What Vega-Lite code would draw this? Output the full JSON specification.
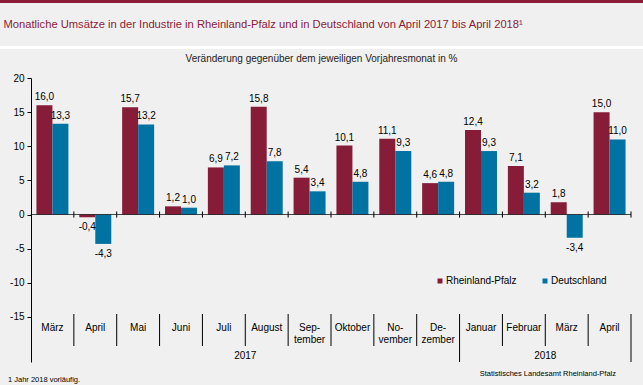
{
  "$schema": "https://vega.github.io/schema/vega-lite/v6.json",
  "width": 643,
  "height": 385,
  "autosize": {"type": "none"},
  "padding": 0,
  "background": "#eff0ef",
  "datasets": {
    "bars": [
      {"key": "2017-03", "series": "Rheinland-Pfalz", "value": 16.0},
      {"key": "2017-03", "series": "Deutschland", "value": 13.3},
      {"key": "2017-04", "series": "Rheinland-Pfalz", "value": -0.4},
      {"key": "2017-04", "series": "Deutschland", "value": -4.3},
      {"key": "2017-05", "series": "Rheinland-Pfalz", "value": 15.7},
      {"key": "2017-05", "series": "Deutschland", "value": 13.2},
      {"key": "2017-06", "series": "Rheinland-Pfalz", "value": 1.2},
      {"key": "2017-06", "series": "Deutschland", "value": 1.0},
      {"key": "2017-07", "series": "Rheinland-Pfalz", "value": 6.9},
      {"key": "2017-07", "series": "Deutschland", "value": 7.2},
      {"key": "2017-08", "series": "Rheinland-Pfalz", "value": 15.8},
      {"key": "2017-08", "series": "Deutschland", "value": 7.8},
      {"key": "2017-09", "series": "Rheinland-Pfalz", "value": 5.4},
      {"key": "2017-09", "series": "Deutschland", "value": 3.4},
      {"key": "2017-10", "series": "Rheinland-Pfalz", "value": 10.1},
      {"key": "2017-10", "series": "Deutschland", "value": 4.8},
      {"key": "2017-11", "series": "Rheinland-Pfalz", "value": 11.1},
      {"key": "2017-11", "series": "Deutschland", "value": 9.3},
      {"key": "2017-12", "series": "Rheinland-Pfalz", "value": 4.6},
      {"key": "2017-12", "series": "Deutschland", "value": 4.8},
      {"key": "2018-01", "series": "Rheinland-Pfalz", "value": 12.4},
      {"key": "2018-01", "series": "Deutschland", "value": 9.3},
      {"key": "2018-02", "series": "Rheinland-Pfalz", "value": 7.1},
      {"key": "2018-02", "series": "Deutschland", "value": 3.2},
      {"key": "2018-03", "series": "Rheinland-Pfalz", "value": 1.8},
      {"key": "2018-03", "series": "Deutschland", "value": -3.4},
      {"key": "2018-04", "series": "Rheinland-Pfalz", "value": 15.0},
      {"key": "2018-04", "series": "Deutschland", "value": 11.0}
    ],
    "months": [
      {"key": "2017-03", "label": "März"},
      {"key": "2017-04", "label": "April"},
      {"key": "2017-05", "label": "Mai"},
      {"key": "2017-06", "label": "Juni"},
      {"key": "2017-07", "label": "Juli"},
      {"key": "2017-08", "label": "August"},
      {"key": "2017-09", "label": "Sep-\ntember"},
      {"key": "2017-10", "label": "Oktober"},
      {"key": "2017-11", "label": "No-\nvember"},
      {"key": "2017-12", "label": "De-\nzember"},
      {"key": "2018-01", "label": "Januar"},
      {"key": "2018-02", "label": "Februar"},
      {"key": "2018-03", "label": "März"},
      {"key": "2018-04", "label": "April"}
    ],
    "years": [
      {"key": "2017-08", "year": "2017"},
      {"key": "2018-03", "year": "2018"}
    ]
  },
  "layer": [
    {
      "data": {"name": "months"},
      "mark": {"type": "rule", "color": "#8a1c38", "strokeWidth": 3},
      "encoding": {"y": {"datum": 31.28, "type": "quantitative"}}
    },
    {
      "data": {"name": "months"},
      "mark": {"type": "rule", "color": "#ffffff", "strokeWidth": 3},
      "encoding": {"y": {"datum": 24.47, "type": "quantitative"}}
    },
    {
      "data": {"name": "bars"},
      "mark": {"type": "bar"},
      "encoding": {
        "x": {
          "field": "key",
          "type": "nominal",
          "scale": {
            "domain": ["2017-03","2017-04","2017-05","2017-06","2017-07","2017-08","2017-09","2017-10","2017-11","2017-12","2018-01","2018-02","2018-03","2018-04"],
            "range": [31, 631],
            "paddingInner": 0,
            "paddingOuter": 0
          },
          "axis": {
            "orient": "bottom",
            "labels": false,
            "ticks": false,
            "domain": false,
            "grid": false,
            "title": "Monatliche Umsätze in der Industrie in Rheinland-Pfalz und in Deutschland von April 2017 bis April 2018¹",
            "titleX": 3,
            "titleY": -361,
            "titleAlign": "left",
            "titleAnchor": "start",
            "titleBaseline": "middle",
            "titleFontSize": 11.2,
            "titleFontWeight": "normal",
            "titleColor": "#8a1c38",
            "titleFont": "Liberation Sans"
          }
        },
        "xOffset": {
          "field": "series",
          "type": "nominal",
          "scale": {"domain": ["Rheinland-Pfalz", "Deutschland"], "paddingInner": 0, "paddingOuter": 0.34}
        },
        "y": {
          "field": "value",
          "type": "quantitative",
          "scale": {"domain": [-21.6, 20], "range": [362, 78], "nice": false, "zero": false},
          "axis": {
            "orient": "left",
            "offset": -31,
            "values": [-15, -10, -5, 0, 5, 10, 15, 20],
            "grid": false,
            "domainColor": "#000000",
            "tickColor": "#000000",
            "tickSize": 4,
            "labelFontSize": 10,
            "labelColor": "#000000",
            "labelPadding": 3,
            "labelFont": "Liberation Sans",
            "title": "Veränderung gegenüber dem jeweiligen Vorjahresmonat in %",
            "titleAngle": 0,
            "titleX": 290,
            "titleY": 58,
            "titleAlign": "center",
            "titleBaseline": "middle",
            "titleFontSize": 10,
            "titleFontWeight": "normal",
            "titleColor": "#222222",
            "titleFont": "Liberation Sans"
          }
        },
        "color": {
          "field": "series",
          "type": "nominal",
          "scale": {"domain": ["Rheinland-Pfalz", "Deutschland"], "range": ["#861c38", "#0073a2"]},
          "legend": {
            "orient": "none",
            "legendX": 435,
            "legendY": 276,
            "direction": "horizontal",
            "title": null,
            "symbolType": "square",
            "symbolSize": 25,
            "symbolStrokeWidth": 0,
            "labelFontSize": 10,
            "labelFont": "Liberation Sans",
            "labelColor": "#000000",
            "labelOffset": 1,
            "columnPadding": 23,
            "padding": 0
          }
        }
      }
    },
    {
      "data": {"name": "bars"},
      "transform": [{"filter": "datum.value >= 0"}],
      "mark": {"type": "text", "baseline": "alphabetic", "dy": -5, "fontSize": 10, "font": "Liberation Sans", "color": "#000000"},
      "encoding": {
        "x": {"field": "key", "type": "nominal"},
        "xOffset": {"field": "series", "type": "nominal"},
        "y": {"field": "value", "type": "quantitative"},
        "text": {"field": "value", "type": "quantitative", "format": ".1f"}
      }
    },
    {
      "data": {"name": "bars"},
      "transform": [{"filter": "datum.value < 0"}],
      "mark": {"type": "text", "baseline": "top", "dy": 5, "fontSize": 10, "font": "Liberation Sans", "color": "#000000"},
      "encoding": {
        "x": {"field": "key", "type": "nominal"},
        "xOffset": {"field": "series", "type": "nominal"},
        "y": {"field": "value", "type": "quantitative"},
        "text": {"field": "value", "type": "quantitative", "format": ".1f"}
      }
    },
    {
      "data": {"name": "months"},
      "mark": {"type": "tick", "orient": "horizontal", "thickness": 1, "color": "#000000"},
      "encoding": {
        "x": {"field": "key", "type": "nominal"},
        "y": {"datum": 0, "type": "quantitative"},
        "size": {"value": 43}
      }
    },
    {
      "data": {"name": "months"},
      "transform": [{"filter": "datum.key != '2017-03'"}],
      "mark": {"type": "rule", "color": "#000000", "strokeWidth": 1},
      "encoding": {
        "x": {"field": "key", "type": "nominal", "bandPosition": 0},
        "y": {"datum": 0.45, "type": "quantitative"},
        "y2": {"datum": -0.45}
      }
    },
    {
      "data": {"name": "months"},
      "transform": [{"filter": "datum.key == '2018-04'"}],
      "mark": {"type": "rule", "color": "#000000", "strokeWidth": 1},
      "encoding": {
        "x": {"field": "key", "type": "nominal", "bandPosition": 1},
        "y": {"datum": 0.45, "type": "quantitative"},
        "y2": {"datum": -0.45}
      }
    },
    {
      "data": {"name": "months"},
      "transform": [{"filter": "datum.key != '2017-03' && datum.key != '2018-01'"}],
      "mark": {"type": "rule", "color": "#000000", "strokeWidth": 1},
      "encoding": {
        "x": {"field": "key", "type": "nominal", "bandPosition": 0},
        "y": {"datum": -14.57, "type": "quantitative"},
        "y2": {"datum": -19.26}
      }
    },
    {
      "data": {"name": "months"},
      "transform": [{"filter": "datum.key == '2018-01'"}],
      "mark": {"type": "rule", "color": "#000000", "strokeWidth": 1},
      "encoding": {
        "x": {"field": "key", "type": "nominal", "bandPosition": 0},
        "y": {"datum": -14.57, "type": "quantitative"},
        "y2": {"datum": -21.6}
      }
    },
    {
      "data": {"name": "months"},
      "transform": [{"filter": "datum.key == '2018-04'"}],
      "mark": {"type": "rule", "color": "#000000", "strokeWidth": 1},
      "encoding": {
        "x": {"field": "key", "type": "nominal", "bandPosition": 1},
        "y": {"datum": -14.57, "type": "quantitative"},
        "y2": {"datum": -21.6}
      }
    },
    {
      "data": {"name": "months"},
      "mark": {"type": "text", "baseline": "top", "align": "center", "fontSize": 10, "font": "Liberation Sans", "lineBreak": "\n", "lineHeight": 12, "color": "#000000"},
      "encoding": {
        "x": {"field": "key", "type": "nominal"},
        "y": {"datum": -15.86, "type": "quantitative"},
        "text": {"field": "label"}
      }
    },
    {
      "data": {"name": "years"},
      "mark": {"type": "text", "baseline": "middle", "align": "center", "fontSize": 10, "font": "Liberation Sans", "color": "#000000"},
      "encoding": {
        "x": {"field": "key", "type": "nominal", "bandPosition": 0},
        "y": {"datum": -20.72, "type": "quantitative"},
        "text": {"field": "year"}
      }
    },
    {
      "data": {"name": "months"},
      "transform": [{"filter": "datum.key == '2017-03'"}],
      "mark": {"type": "text", "baseline": "middle", "align": "left", "dx": -23, "fontSize": 7.5, "font": "Liberation Sans", "color": "#000000"},
      "encoding": {
        "x": {"field": "key", "type": "nominal", "bandPosition": 0},
        "y": {"datum": -24.24, "type": "quantitative"},
        "text": {"value": "1 Jahr 2018 vorläufig."}
      }
    },
    {
      "data": {"name": "months"},
      "transform": [{"filter": "datum.key == '2018-04'"}],
      "mark": {"type": "text", "baseline": "middle", "align": "right", "dx": -15, "fontSize": 7.5, "font": "Liberation Sans", "color": "#000000"},
      "encoding": {
        "x": {"field": "key", "type": "nominal", "bandPosition": 1},
        "y": {"datum": -23.36, "type": "quantitative"},
        "text": {"value": "Statistisches Landesamt Rheinland-Pfalz"}
      }
    }
  ],
  "config": {
    "view": {"stroke": null},
    "font": "Liberation Sans",
    "locale": {
      "number": {"decimal": ",", "thousands": ".", "grouping": [3], "currency": ["", " €"], "minus": "-"}
    }
  }
}
